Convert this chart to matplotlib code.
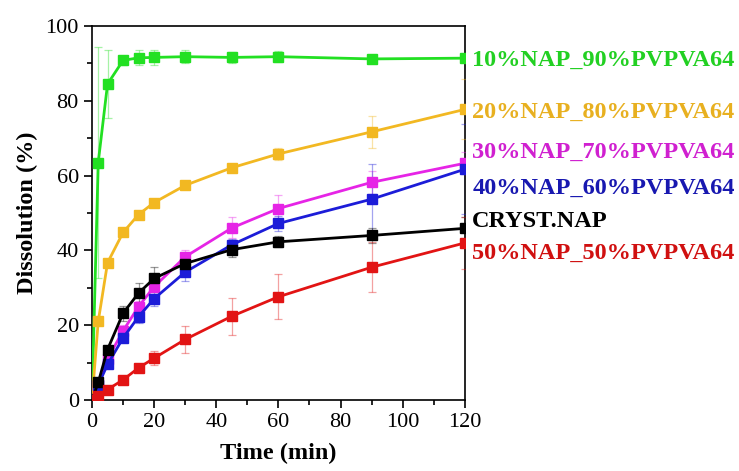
import matplotlib
matplotlib.use("Agg")
import matplotlib.pyplot as plt
import matplotlib.transforms as mtransforms
from matplotlib.ticker import MultipleLocator

plt.rcParams['font.family'] = ['Liberation Serif', 'DejaVu Serif']

time_min = [0, 2, 5, 10, 15, 20, 30, 45, 60, 90, 120]

names = ['10%NAP_90%PVPVA64', '20%NAP_80%PVPVA64', '30%NAP_70%PVPVA64',
         '40%NAP_60%PVPVA64', 'CRYST.NAP', '50%NAP_50%PVPVA64']

nap10 = [0, 63.5, 84.5, 90.8, 91.5, 91.6, 91.8, 91.6, 91.8, 91.2, 91.4]
nap10_err = [0, 31, 9, 1.2, 2, 2, 1.8, 1.5, 1.5, 1, 1]
nap20 = [0, 21, 36.7, 44.8, 49.6, 52.8, 57.4, 62.1, 65.8, 71.7, 77.7]
nap20_err = [0, 1, 1, 1, 1, 1, 1, 1, 1.5, 4.3, 8]
nap30 = [0, 4, 11, 18.5, 25, 30.3, 38.3, 46, 51.2, 58.2, 63.3]
nap30_err = [0, 1, 1.5, 1.5, 1.5, 1.5, 1.8, 2.8, 3.5, 3, 3]
nap40 = [0, 4, 9.5, 16.6, 22.3, 27.1, 34.2, 41.5, 47.2, 53.7, 61.7]
nap40_err = [0, 1, 1, 1, 1.8, 2, 2.5, 1.5, 2, 9.5, 12]
cryst = [0, 4.7, 13.5, 23.2, 28.6, 32.5, 36.5, 40.2, 42.3, 44, 45.9]
cryst_err = [0, 1, 1, 2, 2.7, 3, 2, 2, 1.5, 2, 3]
nap50 = [0, 1, 2.8, 5.4, 8.6, 11.2, 16.2, 22.4, 27.6, 35.5, 42]
nap50_err = [0, 0.5, 0.5, 0.8, 1, 1.8, 3.7, 5, 6, 6.7, 7]

series = [nap10, nap20, nap30, nap40, cryst, nap50]
errors = [nap10_err, nap20_err, nap30_err, nap40_err, cryst_err, nap50_err]
line_colors = ['#22e022', '#f2b822', '#e624e6', '#1c1cd8', '#000000', '#e21414']
text_colors = ['#22d022', '#e8b020', '#d020d0', '#1818b0', '#000000', '#d01010']
label_y = [90.9, 77.0, 66.3, 56.7, 47.6, 39.3]

fig = plt.figure(figsize=(7.39, 4.71), dpi=100)
ax = fig.add_axes([0.1245, 0.1507, 0.5045, 0.7941])

for vals, err, c in zip(series, errors, line_colors):
    ax.errorbar(time_min, vals, yerr=err, color=c, lw=2, marker='s', ms=6.5,
                ecolor=c, elinewidth=0.9, capsize=3, capthick=0.9, zorder=3)

# error bars are drawn lighter than the lines
for coll in ax.collections:
    coll.set_alpha(0.4)
for ln in ax.lines:
    if ln.get_marker() != 's':
        ln.set_alpha(0.4)

ax.set_xlim(0, 120)
ax.set_ylim(0, 100)
ax.xaxis.set_major_locator(MultipleLocator(20))
ax.xaxis.set_minor_locator(MultipleLocator(10))
ax.yaxis.set_major_locator(MultipleLocator(20))
ax.yaxis.set_minor_locator(MultipleLocator(10))
ax.tick_params(which='major', direction='out', length=6, width=1.2, labelsize=16)
ax.tick_params(which='minor', direction='out', length=3.5, width=1.2)
for sp in ax.spines.values():
    sp.set_linewidth(1.2)

ax.set_xlabel('Time (min)', fontsize=17.5, fontweight='bold', labelpad=8)
ax.set_ylabel('Dissolution (%)', fontsize=17.5, fontweight='bold', labelpad=5)

trans = mtransforms.blended_transform_factory(ax.transAxes, ax.transData)
for name, c, yy in zip(names, text_colors, label_y):
    ax.text(1.02, yy, name, transform=trans, color=c, fontsize=17.5,
            fontweight='bold', va='center', ha='left', clip_on=False)

fig.savefig('out.png', dpi=100)
